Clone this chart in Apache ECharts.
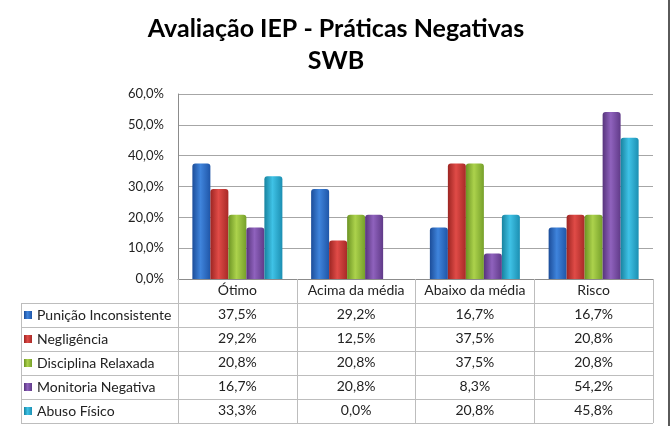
<!DOCTYPE html>
<html>
<head>
<meta charset="utf-8">
<script src="https://cdn.jsdelivr.net/npm/echarts@6/dist/echarts.min.js"></script>
<style>
html,body{margin:0;padding:0;background:#fff;}
#chart{width:672px;height:426px;}
</style>
</head>
<body>
<div id="chart"></div>
<script>
var categories = ['Ótimo', 'Acima da média', 'Abaixo da média', 'Risco'];
var seriesNames = ['Punição Inconsistente', 'Negligência', 'Disciplina Relaxada', 'Monitoria Negativa', 'Abuso Físico'];
var puniacao = [37.5, 29.2, 16.7, 16.7];
var negligencia = [29.2, 12.5, 37.5, 20.8];
var disciplina = [20.8, 20.8, 37.5, 20.8];
var monitoria = [16.7, 20.8, 8.3, 54.2];
var abuso = [33.3, 0.0, 20.8, 45.8];
var yTicks = [0, 10, 20, 30, 40, 50, 60];

var seriesValues = [puniacao, negligencia, disciplina, monitoria, abuso];
var palettes = [
  ['#1c4d99', '#3f84dc', '#1f56a8'],
  ['#9c2522', '#e04b47', '#a82a27'],
  ['#6c9424', '#acd24c', '#76a02a'],
  ['#57347c', '#8f62bd', '#603a88'],
  ['#18839f', '#3fc2e6', '#1c8fb2']
];
function fmt(v) { return v.toFixed(1).replace('.', ',') + '%'; }
function grad(p) {
  return new echarts.graphic.LinearGradient(0, 0, 1, 0, [
    {offset: 0, color: p[0]}, {offset: 0.45, color: p[1]}, {offset: 1, color: p[2]}
  ]);
}
var FONT = 'Lato';
var chart = echarts.init(document.getElementById('chart'), null, {renderer: 'canvas'});

var xAxes = [{
  type: 'category', data: categories, gridIndex: 0, position: 'bottom',
  axisLine: {show: true, lineStyle: {color: '#8c8c8c', width: 1}},
  axisTick: {show: true, length: 144, lineStyle: {color: '#bdbdbd'}},
  axisLabel: {margin: 4, color: '#222', fontFamily: FONT, fontSize: 14, interval: 0}
}];
seriesValues.forEach(function (vals, i) {
  xAxes.push({
    type: 'category', data: vals.map(fmt), gridIndex: 0, position: 'bottom',
    offset: 24 * (i + 1),
    axisLine: {show: false}, axisTick: {show: false}, splitLine: {show: false},
    axisLabel: {margin: 4, color: '#222', fontFamily: FONT, fontSize: 14, interval: 0}
  });
});

var graphics = [];
for (var r = 0; r < 6; r++) {
  graphics.push({type: 'line', shape: {x1: 21, y1: 303.5 + 24 * r, x2: 653, y2: 303.5 + 24 * r},
    style: {stroke: '#bdbdbd', lineWidth: 1}, silent: true});
}
graphics.push({type: 'line', shape: {x1: 21.5, y1: 303, x2: 21.5, y2: 423}, style: {stroke: '#bdbdbd', lineWidth: 1}, silent: true});
graphics.push({type: 'line', shape: {x1: 669, y1: 0, x2: 669, y2: 426}, style: {stroke: '#5a5a5a', lineWidth: 2}, silent: true});

chart.setOption({
  animation: false,
  backgroundColor: '#ffffff',
  title: {
    text: 'Avaliação IEP - Práticas Negativas\nSWB',
    left: 'center', top: 8,
    textStyle: {fontFamily: FONT, fontWeight: 'bold', fontSize: 25, lineHeight: 32, color: '#000', align: 'center'}
  },
  legend: {
    orient: 'vertical', left: 24, top: 308, padding: 0, itemGap: 10,
    itemWidth: 8, itemHeight: 8, icon: 'rect',
    textStyle: {fontFamily: FONT, fontSize: 14, color: '#222', lineHeight: 14},
    data: seriesNames
  },
  grid: {left: 178, right: 19, top: 94, bottom: 147, containLabel: false},
  xAxis: xAxes,
  yAxis: {
    type: 'value', min: 0, max: 60, interval: 10,
    axisLine: {show: true, lineStyle: {color: '#8c8c8c'}},
    axisTick: {show: false},
    splitLine: {show: true, lineStyle: {color: '#a6a6a6'}},
    axisLabel: {margin: 14, color: '#222', fontFamily: FONT, fontSize: 13, formatter: function (v) { return fmt(v); }}
  },
  graphic: graphics,
  series: seriesValues.map(function (vals, i) {
    return {
      name: seriesNames[i], type: 'bar', data: vals, xAxisIndex: 0,
      barWidth: 18, barGap: '0%', barCategoryGap: '23%',
      itemStyle: {color: grad(palettes[i]), borderRadius: [3, 3, 0, 0]}
    };
  })
});
</script>
</body>
</html>
